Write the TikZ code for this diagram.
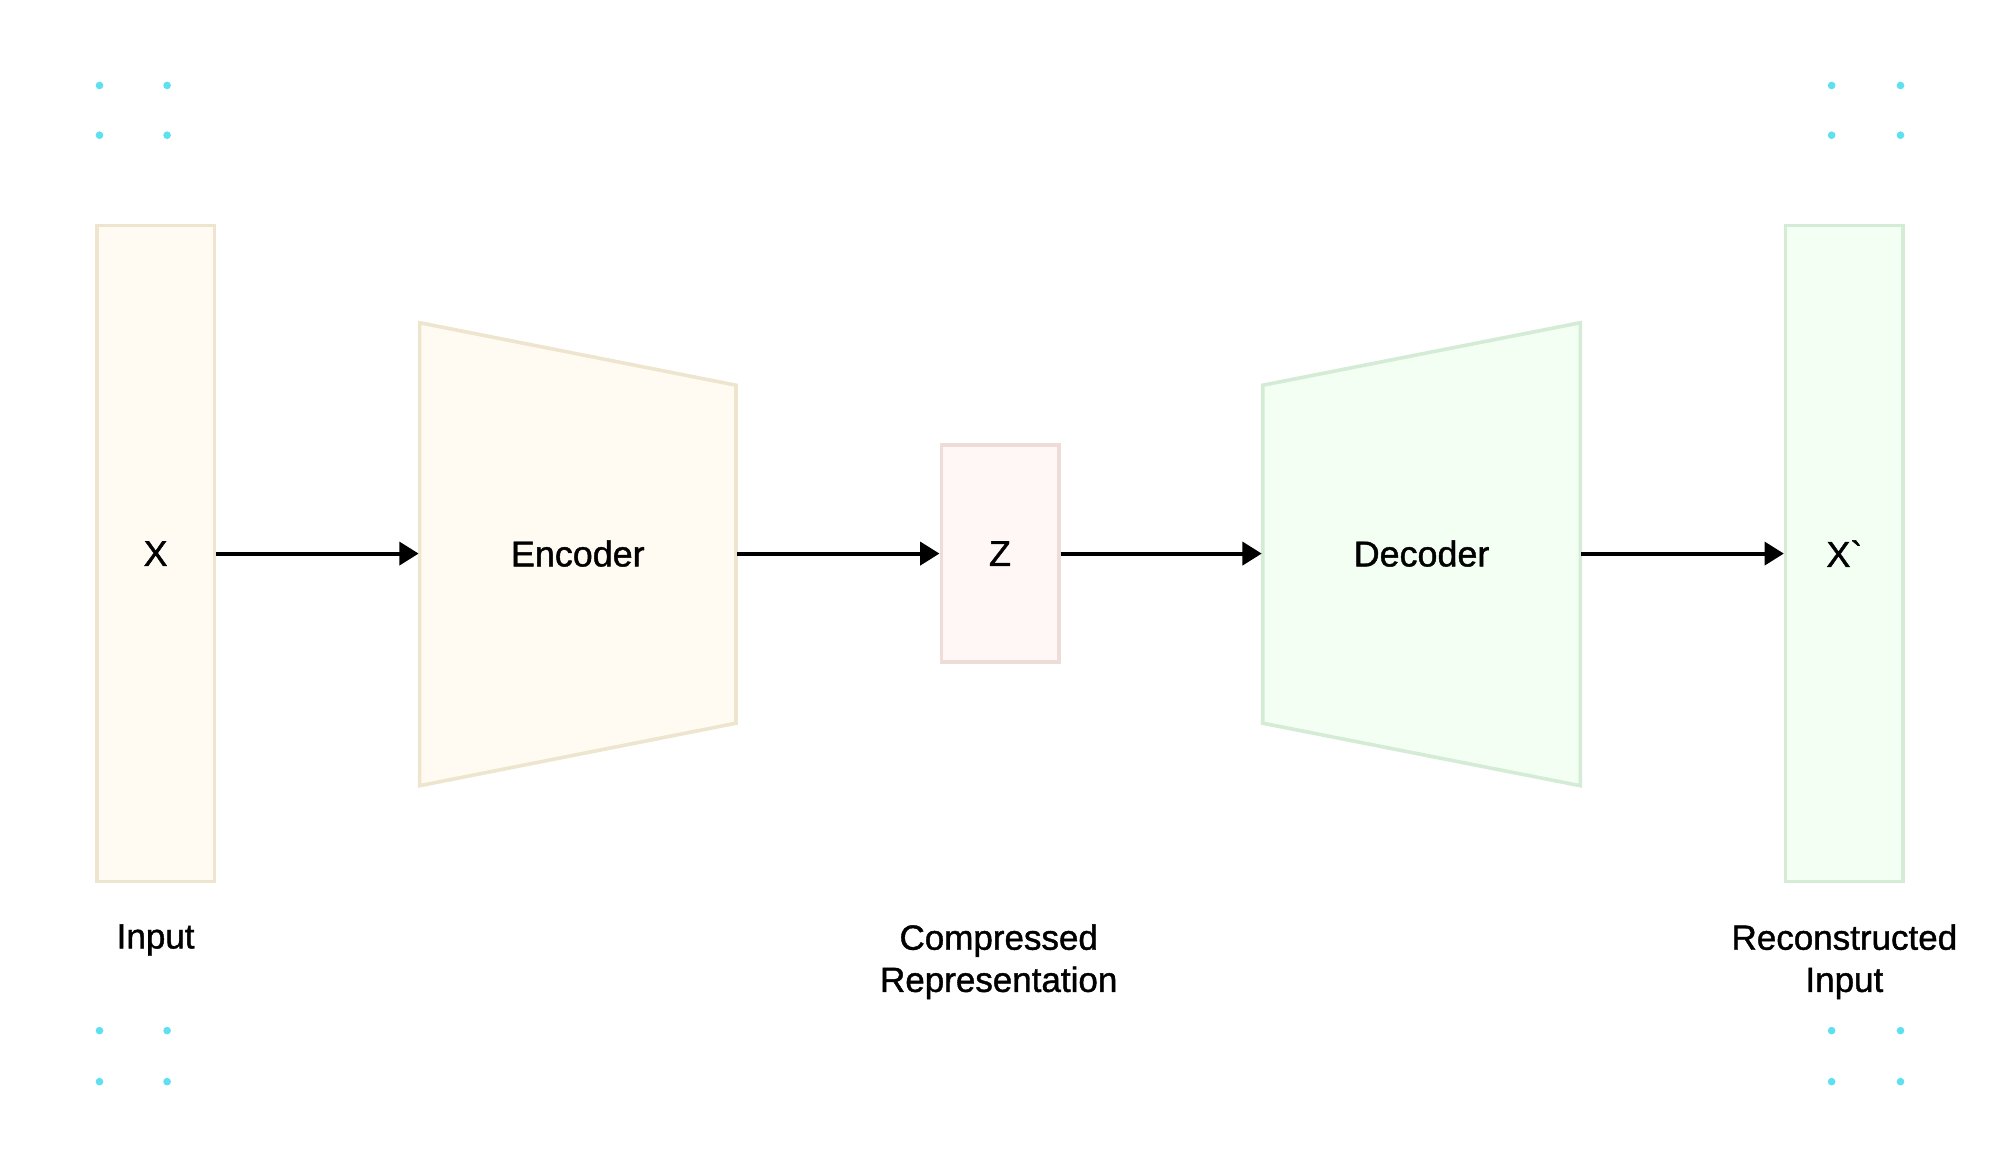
\documentclass[tikz,border=0pt]{standalone}
\usepackage{fontspec}
\setmainfont{Liberation Sans}[FakeBold=1.2, Ligatures=TeXOff]
\usepackage{tikz}
\usetikzlibrary{arrows.meta, positioning}
\definecolor{creamFill}{HTML}{FFFBF2}
\definecolor{creamLine}{HTML}{EEE5CE}
\definecolor{roseFill}{HTML}{FFF7F5}
\definecolor{roseLine}{HTML}{EDDCD8}
\definecolor{mintFill}{HTML}{F4FFF4}
\definecolor{mintLine}{HTML}{D4EBD5}
\definecolor{dotCyan}{HTML}{5EE0F0}

\begin{document}
\begin{tikzpicture}[x=0.01cm, y=-0.01cm,
    box/.style={draw, line width=0.8pt, inner sep=0pt, font=\fontsize{8}{9.5}\selectfont},
    hub/.style={inner sep=0pt, minimum height=0.2cm, font=\fontsize{8}{9.5}\selectfont},
    flow/.style={-{Triangle[length=4.3pt,width=5.1pt]}, line width=0.9pt},
    lbl/.style={align=center, inner sep=0pt, font=\fontsize{7.8}{9.4}\selectfont}]
    \useasboundingbox (0,0) rectangle (1568,915.7);

    % Draw the input and output columns
    \node[box, draw=creamLine, fill=creamFill, minimum width=0.92cm, minimum height=5.14cm] (X) at (122,434) {X};
    \node[box, draw=mintLine, fill=mintFill, minimum width=0.92cm, minimum height=5.14cm] (Xr) at (1446,434) {X`};

    % Draw the bottleneck
    \node[box, draw=roseLine, fill=roseFill, minimum width=0.92cm, minimum height=1.70cm] (Z) at (784,434) {Z};

    % Draw the encoder and decoder trapezoids
    \draw[line width=0.8pt, draw=creamLine, fill=creamFill] (329,253) -- (577,302) -- (577,567) -- (329,616) -- cycle;
    \draw[line width=0.8pt, draw=mintLine, fill=mintFill] (990,302) -- (1239,253) -- (1239,616) -- (990,567) -- cycle;
    \node[hub, minimum width=2.48cm] (Enc) at (453,434) {Encoder};
    \node[hub, minimum width=2.49cm] (Dec) at (1114.5,434) {Decoder};

    % Connect the stages
    \draw[flow] (X) -- (Enc);
    \draw[flow] (Enc) -- (Z);
    \draw[flow] (Z) -- (Dec);
    \draw[flow] (Dec) -- (Xr);

    % Captions
    \node[lbl, anchor=north] (XLbl) at (122,724) {Input};
    \node[lbl, anchor=north] (ZLbl) at (783,724) {Compressed\\Representation};
    \node[lbl, anchor=north] (XrLbl) at (1446,724) {Reconstructed\\Input};

    % Corner dots
    \foreach \x in {78, 131, 1436, 1490}
        \foreach \y in {67, 106, 808, 848}
            \fill[dotCyan] (\x,\y) circle (0.03cm);

\end{tikzpicture}
\end{document}
